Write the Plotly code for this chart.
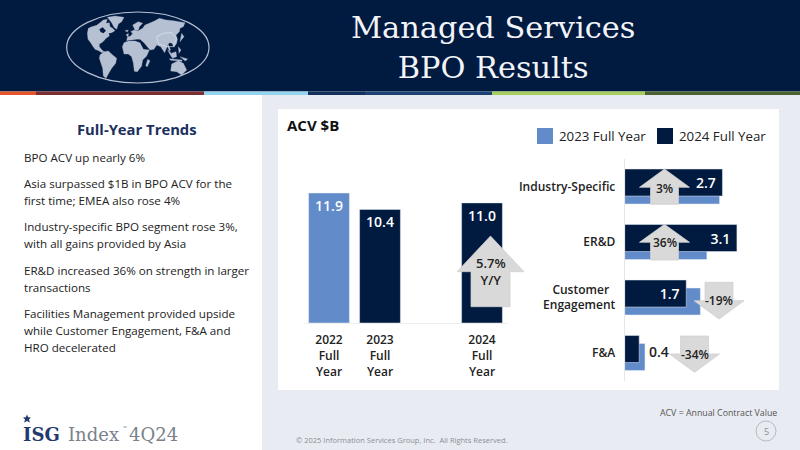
import plotly.graph_objects as go

# Annual ACV totals
YEAR_POSITIONS = [0, 1, 3]
YEAR_LABELS = ["2022<br>Full<br>Year", "2023<br>Full<br>Year", "2024<br>Full<br>Year"]
YEAR_ACV = [11.9, 10.4, 11.0]

# ACV by segment
SEGMENTS = ["Industry-Specific", "ER&D", "Customer\u00a0\u00a0<br>Engagement", "F&A"]
SEGMENT_2023 = [2.62, 2.27, 2.09, 0.56]
SEGMENT_2024 = [2.7, 3.1, 1.7, 0.4]

NAVY = "#001a40"
BLUE = "#628bc9"
PANEL = "#e8ebf1"
ARROW = "#d9d9d9"
W, H = 800, 450


def px(x):
    return x / W


def py(y):
    return 1 - y / H


def rect(x0, y0, x1, y1, color, layer="below"):
    return dict(type="rect", xref="paper", yref="paper", x0=px(x0), x1=px(x1),
                y0=py(y0), y1=py(y1), fillcolor=color, line_width=0, layer=layer)


def poly(points, fill, line=None, width=0, close=True, layer="below"):
    path = "M" + " L".join(f"{px(x):.5f},{py(y):.5f}" for x, y in points) + (" Z" if close else "")
    return dict(type="path", xref="paper", yref="paper", path=path,
                fillcolor=fill if close else "rgba(0,0,0,0)",
                line=dict(color=line or fill, width=width), layer=layer)


def label(text, x, y, size=12, color="#222222", anchor="left", family="Open Sans", weight=400):
    return dict(text=text, x=px(x), y=py(y), xref="paper", yref="paper", showarrow=False,
                xanchor=anchor, yanchor="middle", borderpad=0,
                font=dict(family=family, size=size, color=color, weight=weight))


def up_arrow(cx, tip, wing, bottom, half_wing, half_stem):
    return poly([(cx, tip), (cx + half_wing, wing), (cx + half_stem, wing), (cx + half_stem, bottom),
                 (cx - half_stem, bottom), (cx - half_stem, wing), (cx - half_wing, wing)],
                ARROW, "#cfcfcf", 0.75, layer="above")


# Page furniture: header band, colour stripe, panel and card
shapes = [
    rect(0, 0, 800, 91.5, NAVY),
    rect(262, 95, 800, 450, PANEL),
    rect(278, 109, 779, 390, "#ffffff"),
]
stripe = [(0, 36, "#e4552c"), (36, 204, "#7c2f30"), (204, 308, "#93d4ee"), (308, 365, "#14305c"),
          (365, 492, "#1d4075"), (492, 645, "#a6cf60"), (645, 800, "#4c6331")]
for x0, x1, color in stripe:
    shapes.append(rect(x0, 91.5, x1, 95, color))

# World map emblem, drawn on a 3x grid
LAND = "#b6c0d3"
CONTINENTS = [
    # North America
    [(262, 100), (265, 85), (275, 80), (290, 76), (300, 68), (310, 60), (322, 58), (318, 70), (328, 68), (330, 80),
     (338, 85), (345, 92), (335, 98), (326, 100), (328, 108), (318, 115), (312, 122), (305, 128), (298, 132),
     (298, 140), (304, 148), (312, 155), (306, 158), (296, 152), (285, 148), (278, 138), (272, 128), (264, 118)],
    # Greenland
    [(322, 52), (345, 48), (372, 52), (365, 65), (355, 72), (350, 88), (342, 82), (335, 68)],
    # South America
    [(300, 165), (312, 155), (325, 153), (338, 165), (350, 175), (347, 190), (335, 205), (325, 222), (318, 235),
     (310, 228), (308, 205), (303, 190), (298, 175)],
    # Africa
    [(367, 140), (372, 128), (385, 123), (405, 123), (420, 128), (430, 148), (448, 150), (440, 168), (428, 180),
     (425, 198), (412, 215), (403, 214), (400, 190), (395, 170), (385, 162), (372, 162)],
    # Eurasia
    [(380, 122), (382, 112), (392, 108), (398, 100), (392, 95), (402, 90), (415, 92), (428, 85), (435, 75), (448, 70),
     (465, 62), (478, 55), (498, 60), (520, 62), (555, 68), (550, 80), (540, 85), (538, 95), (528, 105), (532, 118),
     (530, 130), (522, 142), (516, 130), (508, 128), (502, 138), (494, 158), (482, 140), (470, 135), (462, 148),
     (450, 150), (432, 128), (420, 118), (410, 118), (395, 120), (385, 121)],
    # Scandinavia, Iceland, Britain
    [(405, 90), (398, 75), (415, 65), (428, 70), (418, 80), (415, 90)],
    [(375, 92), (385, 90), (382, 96)],
    [(378, 105), (385, 100), (385, 112)],
    # South-east Asia and the Pacific
    [(505, 135), (512, 150), (508, 152), (503, 140)],
    [(503, 150), (510, 155), (520, 170), (514, 170)],
    [(514, 160), (528, 155), (530, 170), (517, 175)],
    [(508, 176), (546, 180), (546, 184), (512, 181)],
    [(535, 140), (543, 150), (537, 160)],
    [(540, 170), (563, 177), (556, 183)],
    [(545, 100), (552, 110), (540, 125)],
    # Madagascar and Australia
    [(443, 178), (450, 182), (442, 200), (437, 197)],
    [(515, 192), (535, 182), (550, 190), (560, 210), (545, 225), (530, 215), (512, 213)],
]
for shape_points in CONTINENTS:
    shapes.append(poly([(x / 3, y / 3) for x, y in shape_points], LAND, LAND, 0.3))
# Hudson Bay
shapes.append(poly([(x / 3, y / 3) for x, y in [(298, 88), (308, 82), (318, 92), (310, 100), (302, 96)]], NAVY))
# China border
shapes.append(poly([(x / 3, y / 3) for x, y in [(470, 110), (490, 100), (515, 98), (530, 115), (520, 140), (497, 140), (475, 130), (470, 110)]],
                   LAND, "#dfe4ee", 0.7, close=False))
shapes.append(dict(type="circle", xref="paper", yref="paper", x0=px(66.7), x1=px(209), y0=py(83), y1=py(12),
                   fillcolor="rgba(0,0,0,0)", line=dict(color="#b6c0d3", width=1.2), layer="below"))

# Logo star and page-number ring
star = [(27, 414.5), (28.2, 417.2), (31, 417.4), (28.9, 419.5), (30, 422.6), (27, 421), (24, 422.6),
        (25.1, 419.5), (23, 417.4), (25.8, 417.2)]
shapes.append(poly(star, "#1f3a6e"))
shapes.append(dict(type="circle", xref="paper", yref="paper", x0=px(756), x1=px(776), y0=py(441), y1=py(421),
                   fillcolor="rgba(0,0,0,0)", line=dict(color="#a8adb5", width=0.8), layer="below"))

# Legend keys
shapes += [rect(537, 128, 553, 144, BLUE), rect(657, 128, 673, 144, NAVY)]

# Change arrows
shapes += [
    up_arrow(490.5, 236, 271.7, 306.7, 33.5, 19.5),
    up_arrow(664.5, 169, 187.3, 204.3, 25, 14),
    up_arrow(664.5, 224.3, 242.3, 260, 25, 14),
    up_arrow(719, 319, 300.7, 282.3, 25, 14),
    up_arrow(694.5, 372.3, 354, 336, 25, 14),
]

annotations = [
    label("Managed Services<br>BPO Results", 492.5, 47, 30.4, "#f2f4f8", "center", "DejaVu Serif"),
    label("Full-Year Trends", 137, 129, 14.8, "#1b2f5e", "center", weight=700),
    label("ACV $B", 286, 125, 15, "#111111", weight=700),
    label("2023 Full Year", 558, 136, 13.3),
    label("2024 Full Year", 678, 136, 13.3),
    label("5.7%<br>Y/Y", 491, 271, 13, anchor="center", weight=600),
    label("3%", 664.5, 188, 12, anchor="center", weight=600),
    label("36%", 664.5, 242, 12, anchor="center", weight=600),
    label("-19%", 719, 300.5, 12, anchor="center", weight=600),
    label("-34%", 694.5, 354, 12, anchor="center", weight=600),
    label("ACV = Annual Contract Value", 778, 413, 8.8, "#555555", "right"),
    label("5", 766, 431, 9, "#8a8f98", "center"),
    label("© 2025 Information Services Group, Inc.  All Rights Reserved.", 295, 440, 7.5, "#8a8f98"),
    label("ISG", 22, 434.5, 18, "#1f3a6e", family="DejaVu Serif", weight=700),
    label("Index", 67, 434, 18, "#7a828c", family="DejaVu Serif"),
    label("\u2122", 122, 428, 5, "#7a828c"),
    label("4Q24", 128, 434, 18, "#7a828c", family="DejaVu Serif"),
    dict(text="0.4", x=SEGMENT_2024[3], y=SEGMENTS[3], xref="x2", yref="y2", showarrow=False,
         xanchor="left", yanchor="middle", xshift=8, yshift=2,
         font=dict(family="Open Sans", size=14, color="#222222", weight=600)),
]

BULLETS = [
    ("BPO ACV up nearly 6%", 157),
    ("Asia surpassed $1B in BPO ACV for the", 183),
    ("first time; EMEA also rose 4%", 200),
    ("Industry-specific BPO segment rose 3%,", 226),
    ("with all gains provided by Asia", 243),
    ("ER&D increased 36% on strength in larger", 270),
    ("transactions", 287),
    ("Facilities Management provided upside", 313),
    ("while Customer Engagement, F&A and", 330),
    ("HRO decelerated", 347),
]
for line, y in BULLETS:
    annotations.append(label(line, 22.5, y, 11.6))

fig = go.Figure()

fig.add_trace(go.Bar(
    x=YEAR_POSITIONS, y=YEAR_ACV, width=0.8, xaxis="x", yaxis="y", showlegend=False,
    marker=dict(color=[BLUE, NAVY, NAVY]),
    text=[f"{v:.1f}" for v in YEAR_ACV], textposition="inside", insidetextanchor="end",
    textangle=0, textfont=dict(family="Open Sans", size=14, color="#ffffff", weight=600),
    hoverinfo="skip",
))

BAR_W = 27 / 55.5
fig.add_trace(go.Bar(
    name="2023 Full Year", y=SEGMENTS, x=SEGMENT_2023, orientation="h", xaxis="x2", yaxis="y2",
    width=BAR_W, offset=-0.171, marker_color=BLUE, hoverinfo="skip",
))
fig.add_trace(go.Bar(
    name="2024 Full Year", y=SEGMENTS, x=SEGMENT_2024, orientation="h", xaxis="x2", yaxis="y2",
    width=BAR_W, offset=-0.315, marker_color=NAVY, hoverinfo="skip",
    text=[f"{v:.1f}\u00a0" for v in SEGMENT_2024[:3]] + [""],
    textposition="inside", insidetextanchor="end", textangle=0,
    textfont=dict(family="Open Sans", size=14, color="#ffffff", weight=600),
))

fig.update_layout(
    width=W, height=H, margin=dict(l=0, r=0, t=0, b=0, pad=0),
    paper_bgcolor="#ffffff", plot_bgcolor="rgba(0,0,0,0)", barmode="overlay", showlegend=False,
    font=dict(family="Open Sans", color="#222222"),
    shapes=shapes, annotations=annotations,
    xaxis=dict(domain=[px(303.5), px(507.5)], range=[-0.5, 3.5], tickvals=YEAR_POSITIONS,
               ticktext=YEAR_LABELS, showgrid=False, zeroline=False, showline=True, linecolor="#eeeeee",
               ticks="outside", ticklen=6, tickcolor="rgba(0,0,0,0)",
               tickfont=dict(family="Open Sans", size=12, color="#222222", weight=600), anchor="y"),
    yaxis=dict(domain=[py(323), py(150)], range=[0, 173 / 10.92], visible=False, anchor="x"),
    xaxis2=dict(domain=[px(624.7), px(751.4)], range=[0, 3.5], visible=False, anchor="y2"),
    yaxis2=dict(domain=[py(380.75), py(158.75)], type="category", categoryorder="array",
                categoryarray=SEGMENTS, range=[3.5, -0.5], showgrid=False, zeroline=False,
                showline=True, linecolor="#e6e6e6", ticks="outside", ticklen=6,
                tickcolor="rgba(0,0,0,0)", anchor="x2",
                tickfont=dict(family="Open Sans", size=12, color="#222222", weight=600)),
)

fig.write_html("out.html")
